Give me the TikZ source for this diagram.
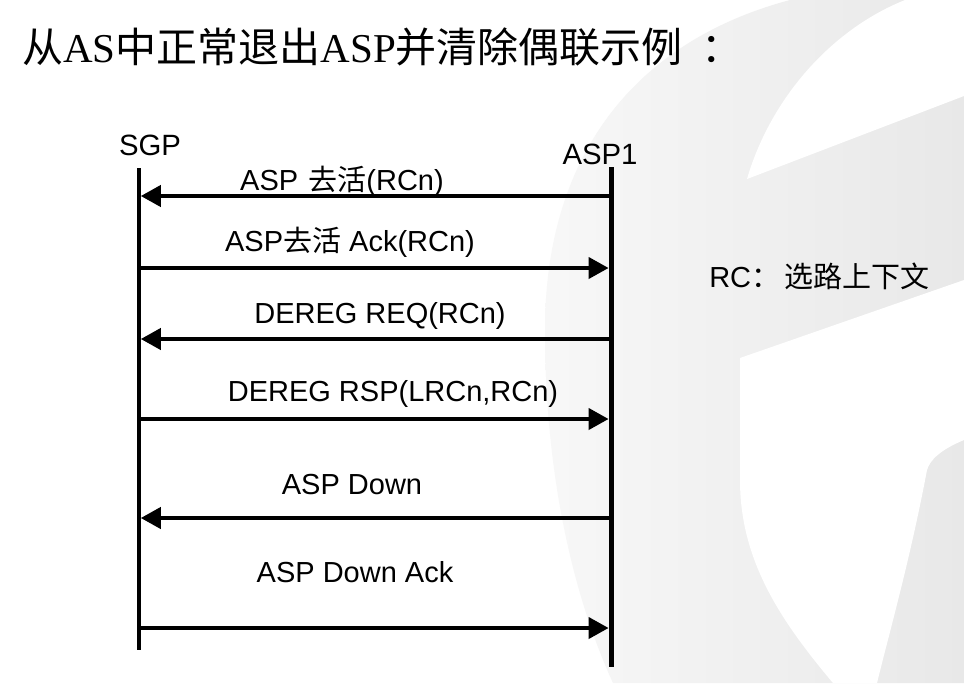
\documentclass[tikz,border=0pt]{standalone}
\usepackage{fontspec}
\setmainfont{Liberation Sans}
\newfontfamily\cjk{Noto Sans CJK SC}
\newfontfamily\serifl{Liberation Serif}
\usetikzlibrary{arrows.meta}
\begin{document}
\begin{tikzpicture}[x=0.75pt,y=-0.75pt,
  lifeS/.style={line width=2.6pt},
  lifeA/.style={line width=3.75pt},
  msg/.style={line width=3pt,-{Triangle[length=15pt,width=15.75pt]}},
  lbl/.style={anchor=base,inner sep=0pt,font=\fontsize{21.75pt}{24pt}\selectfont},
  head/.style={anchor=base,inner sep=0pt,font=\fontsize{22pt}{24pt}\selectfont}]
\useasboundingbox (0,0) rectangle (964,683);
\fill[white] (0,0) rectangle (964,683);
% watermark
\shade[left color=black!3, right color=black!9] (790,0) .. controls (640,40) and (545,150) .. (545,330)
  .. controls (545,480) and (575,600) .. (613,683) -- (964,683) -- (964,0) -- cycle;
\fill[white] (905,0) -- (964,0) -- (964,96) -- (747,179)
  .. controls (770,100) and (830,30) .. (905,0) -- cycle;
\fill[white] (740,358) -- (964,280) -- (964,440)
  .. controls (940,450) and (930,460) .. (927,470)
  .. controls (910,560) and (890,630) .. (877,683) -- (833,683)
  .. controls (780,620) and (740,560) .. (740,480) -- cycle;
% title
\node[anchor=base west,inner sep=0pt,font=\fontsize{30.75pt}{34pt}\selectfont] (title) at (22,62)
  {{\cjk 从}{\serifl AS}{\cjk 中正常退出}{\serifl ASP}{\cjk 并清除偶联示例\hspace{0.45em}：}};
% lifelines
\node[head] (sgp) at (150,155) {SGP};
\node[head] (asp) at (600,164) {ASP1};
\coordinate (st) at (139,168);
\coordinate (sb) at (139,650);
\coordinate (at) at (611,167);
\coordinate (ab) at (611,667);
\draw[lifeS] (st) -- (sb);
\draw[lifeA] (at) -- (ab);
% message endpoints
\foreach \i/\y in {1/196,2/268,3/339,4/419,5/518,6/628}{
  \coordinate (s\i) at (140.8,\y);
  \coordinate (a\i) at (608.6,\y);
  \coordinate (sc\i) at (139,\y);
  \coordinate (ac\i) at (611,\y);
}
\draw[msg] (ac1) -- (s1);
\draw[msg] (sc2) -- (a2);
\draw[msg] (ac3) -- (s3);
\draw[msg] (sc4) -- (a4);
\draw[msg] (ac5) -- (s5);
\draw[msg] (sc6) -- (a6);
% labels
\node[lbl] (m1) at (342,190) {ASP\hspace{0.35em}{\cjk 去活}(RCn)};
\node[lbl] (m2) at (350,251) {ASP{\cjk 去活} Ack(RCn)};
\node[lbl] (m3) at (380,323) {DEREG REQ(RCn)};
\node[lbl] (m4) at (393,401) {DEREG RSP(LRCn,RCn)};
\node[lbl] (m5) at (352,494) {ASP Down};
\node[lbl] (m6) at (355,582) {ASP Down Ack};
\node[lbl,anchor=base west] (rc) at (709,287) {RC{\cjk ：\hspace{0.15em}选路上下文}};
\end{tikzpicture}
\end{document}
